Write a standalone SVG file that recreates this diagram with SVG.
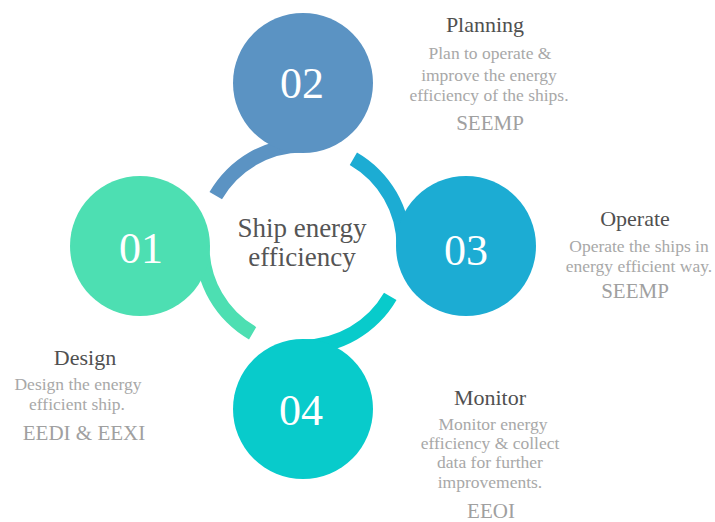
<svg xmlns="http://www.w3.org/2000/svg" width="715" height="522" viewBox="0 0 715 522">
  <defs>
    <!-- One step of the cycle: the ring centre is the origin, the step sits on top
         and its tail runs 60 degrees back along the ring -->
    <g id="step">
      <path d="M -81,-46.75 L -93.5,-54 A 108 108 0 0 1 0,-108 L 0,-93.5 A 93.5 93.5 0 0 0 -81,-46.75 Z"/>
      <circle cx="0" cy="-163" r="70"/>
    </g>
  </defs>
  <style>
    text { font-family: "Liberation Serif", "Times New Roman", serif; text-anchor: middle; }
    .num { fill: #ffffff; font-size: 44px; }
    .center { fill: #555555; font-size: 27px; }
    .title { fill: #505050; font-size: 22px; }
    .desc { fill: #a8a8a8; font-size: 17.5px; }
    .code { fill: #a0a0a0; font-size: 21px; }
  </style>
  <rect width="715" height="522" fill="#ffffff"/>

  <g id="step-02">
    <use href="#step" transform="translate(303,246)" fill="#5b93c3"/>
    <text class="num" x="302" y="98">02</text>
    <text class="title" x="485" y="32">Planning</text>
    <text class="desc" x="490" y="59">Plan to operate &amp;</text>
    <text class="desc" x="489" y="81">improve the energy</text>
    <text class="desc" x="489" y="101">efficiency of the ships.</text>
    <text class="code" x="490" y="130">SEEMP</text>
  </g>

  <g id="step-03">
    <use href="#step" transform="translate(303,246) rotate(90)" fill="#1cacd3"/>
    <text class="num" x="466" y="265">03</text>
    <text class="title" x="635" y="226">Operate</text>
    <text class="desc" x="639" y="252">Operate the ships in</text>
    <text class="desc" x="639" y="272">energy efficient way.</text>
    <text class="code" x="635" y="298">SEEMP</text>
  </g>

  <g id="step-04">
    <use href="#step" transform="translate(303,246) rotate(180)" fill="#08cbcb"/>
    <text class="num" x="301" y="425">04</text>
    <text class="title" x="490" y="405">Monitor</text>
    <text class="desc" x="493" y="430">Monitor energy</text>
    <text class="desc" x="490" y="449">efficiency &amp; collect</text>
    <text class="desc" x="490" y="468">data for further</text>
    <text class="desc" x="490" y="488">improvements.</text>
    <text class="code" x="491" y="518">EEOI</text>
  </g>

  <g id="step-01">
    <use href="#step" transform="translate(303,246) rotate(270)" fill="#4ddfb2"/>
    <text class="num" x="141" y="263">01</text>
    <text class="title" x="85" y="365">Design</text>
    <text class="desc" x="78" y="390">Design the energy</text>
    <text class="desc" x="77" y="410">efficient ship.</text>
    <text class="code" x="84" y="440">EEDI &amp; EEXI</text>
  </g>

  <g id="hub">
    <text class="center" x="302" y="237">Ship energy</text>
    <text class="center" x="302" y="266">efficiency</text>
  </g>
</svg>
